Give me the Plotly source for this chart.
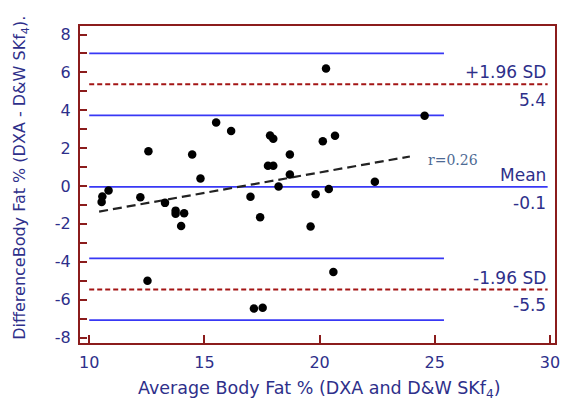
import plotly.graph_objects as go

# Data: average (x) and difference (y)
avg_bf = [10.54, 10.57, 10.84, 12.22, 12.57, 12.53, 13.29, 13.75, 13.75, 14.12,
          13.99, 14.47, 14.83, 15.51, 16.16, 17.0, 17.42, 17.15, 17.53, 17.76,
          17.99, 17.85, 17.99, 18.22, 18.71, 18.71, 19.61, 19.83, 20.14, 20.28,
          20.4, 20.6, 20.67, 22.4, 24.56]
diff_bf = [-0.84, -0.55, -0.24, -0.59, 1.84, -5.0, -0.89, -1.30, -1.47, -1.44,
           -2.11, 1.67, 0.40, 3.36, 2.90, -0.57, -1.65, -6.47, -6.43, 1.07,
           1.07, 2.67, 2.50, -0.03, 1.67, 0.61, -2.14, -0.44, 2.37, 6.2,
           -0.16, -4.54, 2.65, 0.22, 3.71]

# Bland-Altman levels
mean_diff = -0.05
upper_loa = 5.37
lower_loa = -5.47
upper_ci = [7.0, 3.73]
lower_ci = [-3.82, -7.08]
line_x_full = [10.0, 29.9]
line_x_ci = [10.0, 25.4]

# Regression line
reg_x = [10.43, 23.92]
reg_y = [-1.35, 1.56]

x_ticks = [10, 15, 20, 25, 30]
x_ticktext = ["10", "15", "20", "25", "30"]
y_ticks = [-8, -6, -4, -2, 0, 2, 4, 6, 8]
y_ticktext = ["-8", "-6", "-4", "-2", "0", "2", "4", "6", "8"]

AXIS_RED = "#8b1c1c"
TXT_BLUE = "#2e2f8a"
LINE_BLUE = "#3838f5"
DASH_RED = "#a31515"
SANS = "DejaVu Sans, Verdana, sans-serif"

fig = go.Figure()

for yv in upper_ci + lower_ci:
    fig.add_trace(go.Scatter(x=line_x_ci, y=[yv, yv], mode="lines",
                             line=dict(color=LINE_BLUE, width=1.8), hoverinfo="skip"))
fig.add_trace(go.Scatter(x=line_x_full, y=[mean_diff, mean_diff], mode="lines",
                         line=dict(color=LINE_BLUE, width=1.8), hoverinfo="skip"))
for yv in [upper_loa, lower_loa]:
    fig.add_trace(go.Scatter(x=line_x_full, y=[yv, yv], mode="lines",
                             line=dict(color=DASH_RED, width=2, dash="5px,3px"),
                             hoverinfo="skip"))
fig.add_trace(go.Scatter(x=reg_x, y=reg_y, mode="lines",
                         line=dict(color="#222222", width=2.2, dash="9px,5px"),
                         hoverinfo="skip"))
fig.add_trace(go.Scatter(x=avg_bf, y=diff_bf, mode="markers",
                         marker=dict(color="black", size=8.5)))

lab_font = dict(family=SANS, size=17, color=TXT_BLUE)
labels = [("+1.96 SD", upper_loa, 12.5), ("5.4", upper_loa, -15.7),
          ("Mean", mean_diff, 12), ("-0.1", mean_diff, -16),
          ("-1.96 SD", lower_loa, 12), ("-5.5", lower_loa, -15.3)]
for txt, yv, shift in labels:
    fig.add_annotation(x=29.9, y=yv, text=txt, showarrow=False, xanchor="right",
                       yanchor="middle", yshift=shift, font=lab_font)

fig.add_annotation(x=24.6, y=1.40, text="r=0.26", showarrow=False,
                   xanchor="left", yanchor="middle",
                   font=dict(family="DejaVu Serif, serif", size=14, color="#4d6a94"))

# axis titles
fig.add_annotation(xref="paper", yref="paper", x=0.505, y=-0.105, yanchor="top",
                   text="Average Body Fat % (DXA and D&W SKf<sub>4</sub>)", showarrow=False,
                   font=dict(family=SANS, size=17.5, color=TXT_BLUE))
fig.add_annotation(xref="paper", yref="paper", x=-0.125, y=0.52, xanchor="center",
                   yanchor="middle", textangle=-90,
                   text="DifferenceBody Fat % (DXA - D&W SKf<sub>4</sub>).", showarrow=False,
                   font=dict(family=SANS, size=16, color=TXT_BLUE))

fig.update_layout(
    width=566, height=400, showlegend=False,
    plot_bgcolor="white", paper_bgcolor="white",
    margin=dict(l=80, r=6, t=26, b=57),
    xaxis=dict(range=[9.6, 30.22], tickvals=x_ticks, ticktext=x_ticktext,
               ticks="inside", ticklen=8,
               tickcolor=AXIS_RED, tickwidth=1.5, showline=True, linecolor=AXIS_RED,
               linewidth=2, mirror=True, showgrid=False, zeroline=False,
               tickfont=dict(family=SANS, size=16, color=TXT_BLUE),
               ticklabelstandoff=4),
    yaxis=dict(range=[-8.29, 8.45], tickvals=y_ticks, ticktext=y_ticktext,
               ticks="inside", ticklen=7,
               tickcolor=AXIS_RED, tickwidth=1.5, showline=True, linecolor=AXIS_RED,
               linewidth=2, mirror=True, showgrid=False, zeroline=False,
               minor=dict(dtick=1, ticks="inside", ticklen=7, tickcolor=AXIS_RED, tickwidth=1.5),
               tickfont=dict(family=SANS, size=16, color=TXT_BLUE),
               ticklabelstandoff=4),
)

fig.write_html("out.html", config={"displayModeBar": False},
               post_script="document.body.style.margin='0';")
